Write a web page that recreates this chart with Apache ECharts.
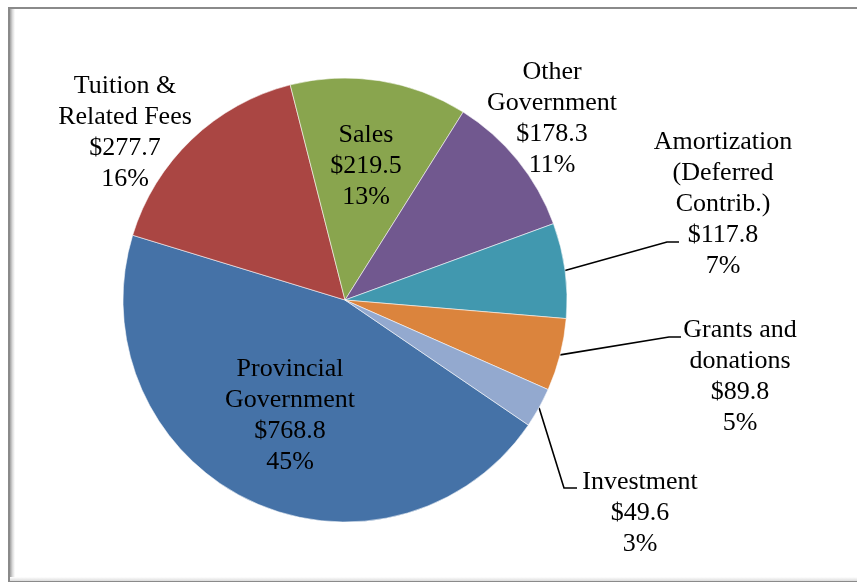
<!DOCTYPE html>
<html>
<head>
<meta charset="utf-8">
<script src="https://cdn.jsdelivr.net/npm/echarts@6/dist/echarts.min.js"></script>
<style>
html,body{margin:0;padding:0;background:#fff;}
#chart{width:857px;height:585px;}
</style>
</head>
<body>
<div id="chart"></div>
<script>
// Data (millions of dollars)
const categories = [
  'Provincial\nGovernment',
  'Tuition &\nRelated Fees',
  'Sales',
  'Other\nGovernment',
  'Amortization\n(Deferred\nContrib.)',
  'Grants and\ndonations',
  'Investment'
];
const values = [768.8, 277.7, 219.5, 178.3, 117.8, 89.8, 49.6];
const colors = ['#4572A7', '#AA4643', '#89A54E', '#71588F', '#4198AF', '#DB843D', '#93A9CF'];

// label placement (text positions) per slice
const labelPos = [
  {x: 290, y: 416, line: null},
  {x: 125, y: 133, line: null},
  {x: 366, y: 166, line: null},
  {x: 552, y: 119, line: null},
  {x: 723, y: 204, line: [[667, 242], [679, 242]]},
  {x: 740, y: 377, line: [[669, 337], [681, 337]]},
  {x: 640, y: 513, line: [[564, 488], [577, 488]]}
];
const insideIdx = [0, 2];
const noLineIdx = [1, 3];

const chart = echarts.init(document.getElementById('chart'), null, {renderer: 'canvas'});

const data = categories.map((n, i) => ({
  name: n,
  value: values[i],
  itemStyle: {color: colors[i]},
  label: {position: insideIdx.includes(i) ? 'inside' : 'outside'},
  labelLine: {show: !(insideIdx.includes(i) || noLineIdx.includes(i))}
}));

chart.setOption({
  animation: false,
  backgroundColor: '#fff',
  graphic: [
    {type: 'rect', z: 0, shape: {x: 9, y: 8, width: 870, height: 573},
     style: {fill: '#fff', stroke: '#8a8a8a', lineWidth: 2}},
    {type: 'rect', z: 0, shape: {x: 10, y: 9, width: 5, height: 571},
     style: {fill: new echarts.graphic.LinearGradient(0, 0, 1, 0, [
       {offset: 0, color: '#a0a0a0'}, {offset: 0.5, color: '#dadada'}, {offset: 1, color: '#ffffff'}])}},
    {type: 'rect', z: 0, shape: {x: 10, y: 577, width: 860, height: 4},
     style: {fill: new echarts.graphic.LinearGradient(0, 0, 0, 1, [
       {offset: 0, color: '#ffffff'}, {offset: 1, color: '#dcdcdc'}])}}
  ],
  series: [{
    type: 'pie',
    center: [345, 300],
    radius: 222,
    startAngle: 325.7,
    clockwise: true,
    percentPrecision: 0,
    avoidLabelOverlap: false,
    data: data,
    itemStyle: {borderColor: 'rgba(255,255,255,0.55)', borderWidth: 1},
    label: {
      show: true,
      formatter: '{b}\n${c}\n{d}%',
      fontFamily: "'Liberation Serif', 'DejaVu Serif', serif",
      fontSize: 26,
      lineHeight: 31,
      color: '#000',
      align: 'center'
    },
    labelLine: {show: true, lineStyle: {color: '#000', width: 1.6}, length: 10, length2: 10},
    emphasis: {disabled: true},
    labelLayout: function (params) {
      const p = labelPos[params.dataIndex];
      const res = {x: p.x, y: p.y, align: 'center', verticalAlign: 'middle'};
      if (p.line && params.labelLinePoints) {
        res.labelLinePoints = [params.labelLinePoints[0], p.line[0], p.line[1]];
      }
      return res;
    }
  }]
});
</script>
</body>
</html>
